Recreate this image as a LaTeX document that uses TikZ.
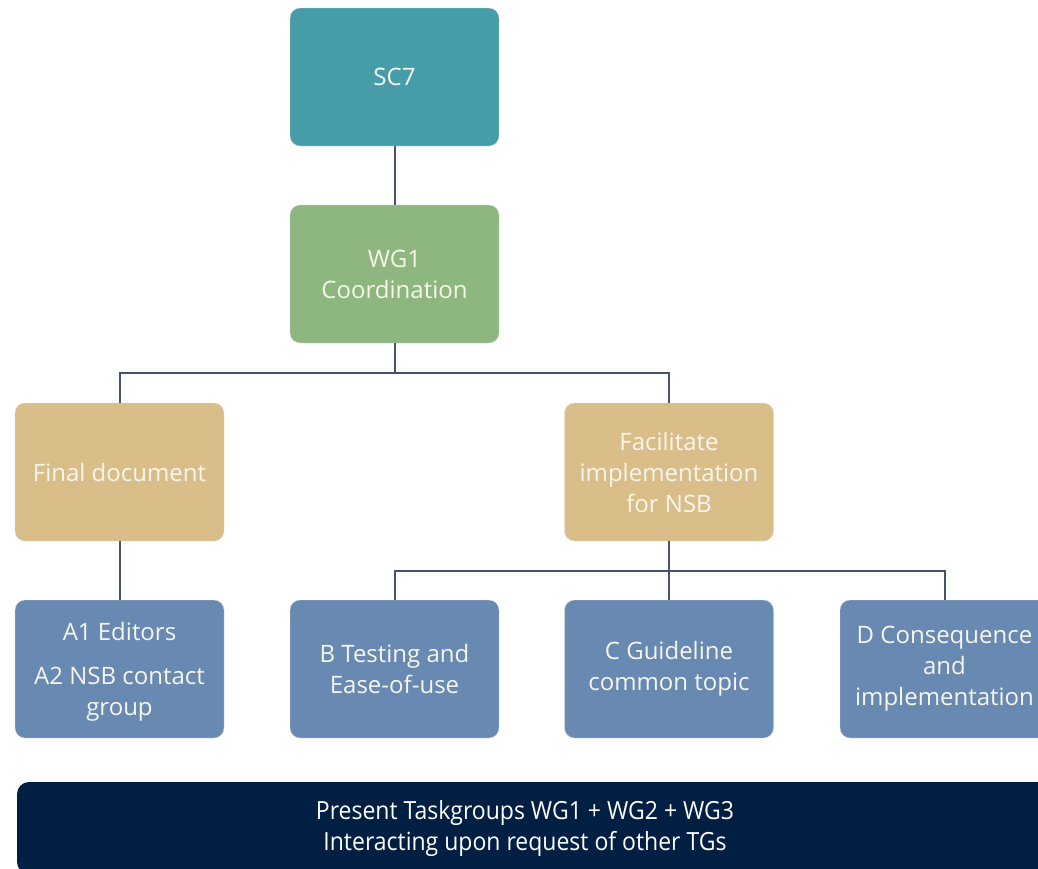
\documentclass[tikz,border=0pt]{standalone}
\usepackage{fontspec}
\setmainfont{Open Sans}
\definecolor{teal7}{RGB}{71,156,169}
\definecolor{wggreen}{RGB}{141,183,127}
\definecolor{sand}{RGB}{217,190,137}
\definecolor{steel}{RGB}{104,137,177}
\definecolor{navy}{RGB}{0,31,66}
\definecolor{linec}{RGB}{68,84,106}
\definecolor{txt}{RGB}{246,246,236}
\begin{document}
\begin{tikzpicture}[x=1pt,y=-1pt,
  box/.style={rounded corners=10pt, minimum width=209pt, minimum height=138pt, inner sep=0pt,
    text=txt, align=center, font=\fontsize{24}{31}\selectfont, draw=white!85!black, line width=0.4pt},
  conn/.style={draw=linec, line width=2pt}]
\useasboundingbox (0,0) rectangle (1038,868);
\clip (0,0) rectangle (1038,868);
\node[box, fill=teal7] (sc7) at (394.5,77) {SC7};
\node[box, fill=wggreen] (wg1) at (394.5,274) {WG1\\Coordination};
\node[box, fill=sand] (final) at (119.5,472) {Final document};
\node[box, fill=sand] (fac) at (669,472) {Facilitate\\implementation\\for NSB};
\node[box, fill=steel] (a1) at (119.5,669) {\begin{tabular}{@{}c@{}}\rule{0pt}{28pt}A1 Editors\\[13pt]A2 NSB contact\\group\end{tabular}};
\node[box, fill=steel] (b) at (394.5,669) {B Testing and\\Ease-of-use};
\node[box, fill=steel] (c) at (669,669) {C Guideline\\common topic};
\node[box, fill=steel] (d) at (944.5,669) {D Consequence\\and\\implementation};
\node[rounded corners=12pt, fill=navy, minimum width=1040pt, minimum height=92pt, inner sep=0pt,
  text=white, align=center, font=\fontsize{25}{31}\selectfont] (bar) at (537,828)
  {\hspace*{-24pt}\scalebox{0.92}[1]{Present Taskgroups WG1 + WG2 + WG3}\\\hspace*{-24pt}\scalebox{0.92}[1]{Interacting upon request of other TGs}};
\draw[conn] (sc7.south) -- (wg1.north);
\draw[conn] (wg1.south) -- ++(0,30) -| (final.north);
\draw[conn] (wg1.south) -- ++(0,30) -| (fac.north);
\draw[conn] (final.south) -- (a1.north);
\draw[conn] (fac.south) -- ++(0,30) -| (b.north);
\draw[conn] (fac.south) -- ++(0,30) -| (c.north);
\draw[conn] (fac.south) -- ++(0,30) -| (d.north);
\end{tikzpicture}
\end{document}
